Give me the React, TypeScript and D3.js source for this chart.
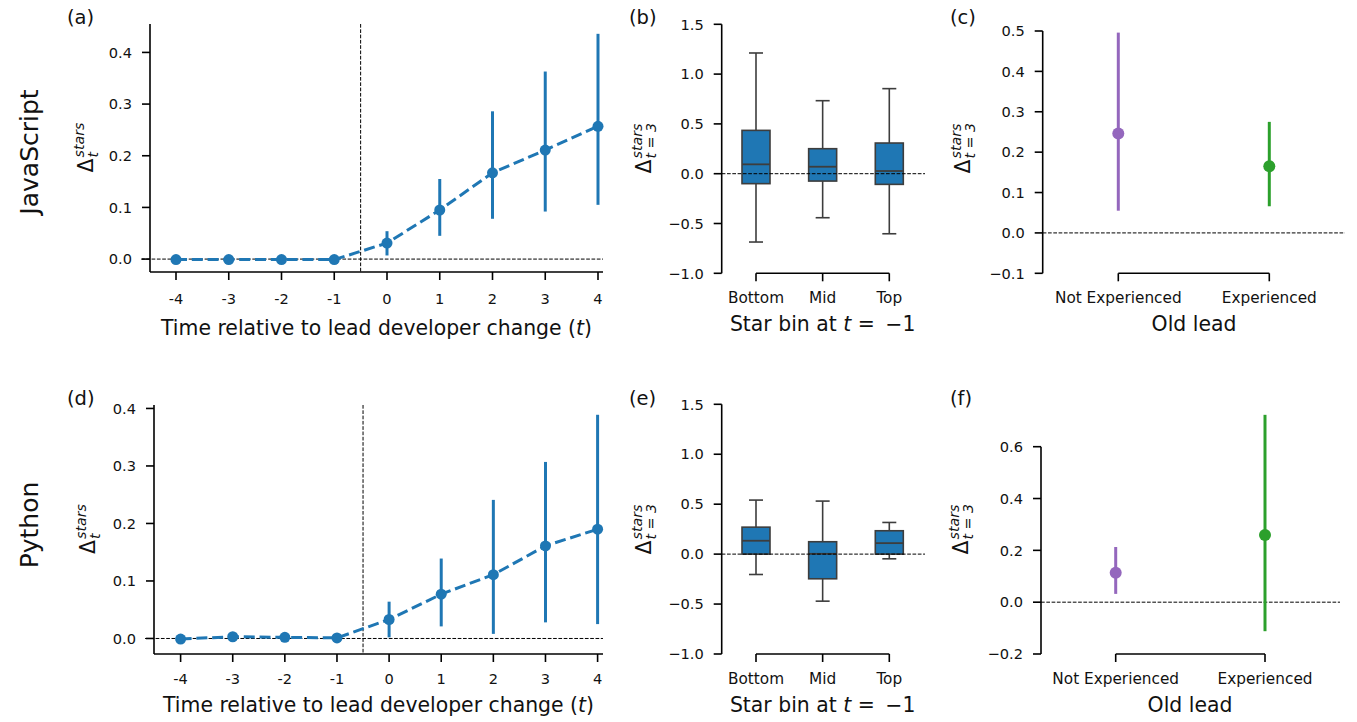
import React from "react";
import * as d3 from "d3";

// ---------- DATA ----------
const timeSteps = [-4, -3, -2, -1, 0, 1, 2, 3, 4];
const timeTickLabels = ["-4", "-3", "-2", "-1", "0", "1", "2", "3", "4"];

const jsMean = [-0.001, -0.001, -0.001, -0.001, 0.031, 0.095, 0.167, 0.211, 0.257];
const jsLow = [-0.003, -0.003, -0.003, -0.003, 0.007, 0.045, 0.078, 0.092, 0.105];
const jsHigh = [0.001, 0.001, 0.001, 0.001, 0.054, 0.155, 0.286, 0.363, 0.436];

const pyMean = [-0.001, 0.003, 0.002, 0.001, 0.033, 0.077, 0.111, 0.161, 0.19];
const pyLow = [-0.003, 0.0, 0.0, -0.001, 0.002, 0.021, 0.008, 0.028, 0.025];
const pyHigh = [0.001, 0.006, 0.004, 0.003, 0.064, 0.139, 0.241, 0.307, 0.389];

const starBins = ["Bottom", "Mid", "Top"];
const jsWhiskerLow = [-0.686, -0.442, -0.603];
const jsQ1 = [-0.1, -0.074, -0.107];
const jsMedian = [0.094, 0.07, 0.027];
const jsQ3 = [0.435, 0.251, 0.308];
const jsWhiskerHigh = [1.212, 0.733, 0.854];

const pyWhiskerLow = [-0.204, -0.471, -0.047];
const pyQ1 = [0.0, -0.247, 0.0];
const pyMedian = [0.134, 0.003, 0.11];
const pyQ3 = [0.27, 0.124, 0.234];
const pyWhiskerHigh = [0.541, 0.531, 0.317];

const leadGroups = ["Not Experienced", "Experienced"];
const leadColors = ["#9467bd", "#2ca02c"];
const jsExpMean = [0.246, 0.165];
const jsExpLow = [0.055, 0.066];
const jsExpHigh = [0.496, 0.275];
const pyExpMean = [0.114, 0.259];
const pyExpLow = [0.032, -0.112];
const pyExpHigh = [0.213, 0.723];

const yTicksA = [0, 0.1, 0.2, 0.3, 0.4];
const yTicksD = [0, 0.1, 0.2, 0.3, 0.4];
const yTicksBox = [-1, -0.5, 0, 0.5, 1, 1.5];
const yTicksC = [-0.1, 0, 0.1, 0.2, 0.3, 0.4, 0.5];
const yTicksF = [-0.2, 0, 0.2, 0.4, 0.6];

// ---------- STYLE ----------
const FONT = "DejaVu Sans";
const BLUE = "#1f77b4";
const BOXLINE = "#3d3d3d";
const TICK_FS = 14.6;
const CAT_FS = 15.3;
const LABEL_FS = 20.4;
const TICK_LEN = 8;
const SPINE_W = 1.6;

const fmt = (v: number) => {
  const s = Math.abs(v).toFixed(1);
  return v < -1e-9 ? "\u2212" + s : s;
};

function YAxis({ y, x, ticks, y0, y1 }: any) {
  return (
    <g>
      <line x1={x} x2={x} y1={y0} y2={y1} stroke="#000" strokeWidth={SPINE_W} />
      {ticks.map((t: number, i: number) => (
        <g key={i}>
          <line x1={x - TICK_LEN} x2={x} y1={y(t)} y2={y(t)} stroke="#000" strokeWidth={SPINE_W} />
          <text x={x - TICK_LEN - 10} y={y(t)} dy="0.36em" textAnchor="end" fontSize={TICK_FS} fontFamily={FONT} fill="#111">
            {fmt(t)}
          </text>
        </g>
      ))}
    </g>
  );
}

function XAxis({ positions, labels, y, x0, x1, labelY, fs }: any) {
  return (
    <g>
      <line x1={x0} x2={x1} y1={y} y2={y} stroke="#000" strokeWidth={SPINE_W} />
      {positions.map((p: number, i: number) => (
        <g key={i}>
          <line x1={p} x2={p} y1={y} y2={y + TICK_LEN} stroke="#000" strokeWidth={SPINE_W} />
          <text x={p} y={labelY} textAnchor="middle" fontSize={fs} fontFamily={FONT} fill="#111">
            {labels[i]}
          </text>
        </g>
      ))}
    </g>
  );
}

function DeltaLabel({ x, y, sub }: any) {
  // rotated mathtext-like label: Delta_{sub}^{stars}
  const dW = 14;
  const supW = 34;
  const total = dW + 1 + supW;
  const sx = -total / 2;
  return (
    <g transform={`translate(${x},${y}) rotate(-90)`} fontFamily={FONT} fill="#111">
      <text x={sx} y={0} fontSize={LABEL_FS}>{"\u0394"}</text>
      <text x={sx + dW + 1} y={-9} fontSize={14.2} fontStyle="italic">stars</text>
      <text x={sx + dW + 1} y={5} fontSize={14.2} fontStyle="italic">{sub}</text>
    </g>
  );
}

function PanelLabel({ x, y, text }: any) {
  return (
    <text x={x} y={y} fontSize={19.5} fontFamily={FONT} fill="#111">{text}</text>
  );
}

function TimePanel({ mean, low, high, cfg }: any) {
  const x = d3.scaleLinear().domain([-4, 4]).range(cfg.xRange);
  const y = d3.scaleLinear().domain(cfg.yDomain).range([cfg.bottom, cfg.top]);
  const pts = timeSteps.map((t, i) => [x(t), y(mean[i])] as [number, number]);
  const line = d3.line()(pts) || "";
  return (
    <g>
      <line x1={cfg.spineX - 9} x2={cfg.right} y1={y(0)} y2={y(0)} stroke="#000" strokeWidth={1} strokeDasharray="3.7 1.6" />
      <line x1={x(-0.5)} x2={x(-0.5)} y1={cfg.top} y2={cfg.bottom} stroke="#000" strokeWidth={1} strokeDasharray="3.7 1.6" />
      {timeSteps.map((t, i) => (
        <line key={i} x1={x(t)} x2={x(t)} y1={y(low[i])} y2={y(high[i])} stroke={BLUE} strokeWidth={3} />
      ))}
      <path d={line} fill="none" stroke={BLUE} strokeWidth={3} strokeDasharray="11 4.8" />
      {pts.map((p, i) => (
        <circle key={i} cx={p[0]} cy={p[1]} r={5.5} fill={BLUE} />
      ))}
      <YAxis y={y} x={cfg.spineX} ticks={cfg.yTicks} y0={cfg.top} y1={cfg.bottom} />
      <XAxis positions={timeSteps.map((t) => x(t))} labels={timeTickLabels} y={cfg.bottom} x0={cfg.spineX} x1={cfg.right} labelY={cfg.xtickY} fs={TICK_FS} />
      <text x={(cfg.spineX + cfg.right) / 2} y={cfg.xlabelY} textAnchor="middle" fontSize={LABEL_FS} fontFamily={FONT} fill="#111">
        Time relative to lead developer change (<tspan fontStyle="italic">t</tspan>)
      </text>
      <DeltaLabel x={cfg.ylabelX} y={(cfg.top + cfg.bottom) / 2} sub="t" />
    </g>
  );
}

function BoxPanel({ wl, q1, med, q3, wh, cfg }: any) {
  const x = d3.scalePoint().domain(starBins).range(cfg.xRange);
  const y = d3.scaleLinear().domain([-1, 1.5]).range([cfg.bottom, cfg.top]);
  const bw = 28;
  const cw = 14;
  return (
    <g>
      {starBins.map((b, i) => {
        const cx = x(b) as number;
        return (
          <g key={b}>
            <line x1={cx} x2={cx} y1={y(q3[i])} y2={y(wh[i])} stroke={BOXLINE} strokeWidth={1.6} />
            <line x1={cx} x2={cx} y1={y(q1[i])} y2={y(wl[i])} stroke={BOXLINE} strokeWidth={1.6} />
            <line x1={cx - cw / 2} x2={cx + cw / 2} y1={y(wh[i])} y2={y(wh[i])} stroke={BOXLINE} strokeWidth={1.6} />
            <line x1={cx - cw / 2} x2={cx + cw / 2} y1={y(wl[i])} y2={y(wl[i])} stroke={BOXLINE} strokeWidth={1.6} />
            <rect x={cx - bw / 2} y={y(q3[i])} width={bw} height={y(q1[i]) - y(q3[i])} fill={BLUE} stroke={BOXLINE} strokeWidth={1.6} />
            <line x1={cx - bw / 2} x2={cx + bw / 2} y1={y(med[i])} y2={y(med[i])} stroke={BOXLINE} strokeWidth={1.8} />
          </g>
        );
      })}
      <line x1={cfg.spineX} x2={cfg.right} y1={y(0)} y2={y(0)} stroke="#000" strokeWidth={1} strokeDasharray="3.7 1.6" />
      <YAxis y={y} x={cfg.spineX} ticks={yTicksBox} y0={y(1.5)} y1={y(-1)} />
      <XAxis positions={starBins.map((b) => x(b) as number)} labels={starBins} y={cfg.bottom} x0={x("Bottom")} x1={x("Top")} labelY={cfg.xtickY} fs={CAT_FS} />
      <text x={(x("Mid") as number)} y={cfg.xlabelY} textAnchor="middle" fontSize={LABEL_FS} fontFamily={FONT} fill="#111">
        Star bin at <tspan fontStyle="italic">t</tspan>{" = \u2009\u22121"}
      </text>
      <DeltaLabel x={cfg.ylabelX} y={cfg.ylabelY} sub="t = 3" />
    </g>
  );
}

function LeadPanel({ mean, low, high, cfg }: any) {
  const x = d3.scalePoint().domain(leadGroups).range(cfg.xRange);
  const y = d3.scaleLinear().domain(cfg.yDomain).range([cfg.bottom, cfg.yTop]);
  return (
    <g>
      <line x1={cfg.spineX} x2={cfg.right} y1={y(0)} y2={y(0)} stroke="#000" strokeWidth={1} strokeDasharray="3.7 1.6" />
      {leadGroups.map((g, i) => {
        const cx = x(g) as number;
        return (
          <g key={g}>
            <line x1={cx} x2={cx} y1={y(low[i])} y2={y(high[i])} stroke={leadColors[i]} strokeWidth={3} />
            <circle cx={cx} cy={y(mean[i])} r={6} fill={leadColors[i]} />
          </g>
        );
      })}
      <YAxis y={y} x={cfg.spineX} ticks={cfg.yTicks} y0={y(cfg.yDomain[1])} y1={y(cfg.yDomain[0])} />
      <XAxis positions={leadGroups.map((g) => x(g) as number)} labels={leadGroups} y={cfg.bottom} x0={x(leadGroups[0])} x1={x(leadGroups[1])} labelY={cfg.xtickY} fs={CAT_FS} />
      <text x={cfg.xlabelX} y={cfg.xlabelY} textAnchor="middle" fontSize={LABEL_FS} fontFamily={FONT} fill="#111">
        Old lead
      </text>
      <DeltaLabel x={cfg.ylabelX} y={cfg.ylabelY} sub="t = 3" />
    </g>
  );
}

export default function App() {
  return (
    <svg width={1357} height={722} style={{ position: "absolute", left: 0, top: 0, background: "#fff" }}>
      <rect x={0} y={0} width={1357} height={722} fill="#fff" />
      {/* row labels */}
      <text transform="translate(38,152) rotate(-90)" textAnchor="middle" fontSize={25} fontFamily={FONT} fill="#111">JavaScript</text>
      <text transform="translate(38,525) rotate(-90)" textAnchor="middle" fontSize={25} fontFamily={FONT} fill="#111">Python</text>

      <PanelLabel x={67} y={24} text="(a)" />
      <PanelLabel x={629} y={24} text="(b)" />
      <PanelLabel x={950} y={24} text="(c)" />
      <PanelLabel x={67} y={405} text="(d)" />
      <PanelLabel x={629} y={405} text="(e)" />
      <PanelLabel x={950} y={405} text="(f)" />

      <TimePanel mean={jsMean} low={jsLow} high={jsHigh}
        cfg={{ xRange: [176, 598], yDomain: [-0.025, 0.455], top: 24, bottom: 272, spineX: 150, right: 603, yTicks: yTicksA, xtickY: 303.5, xlabelY: 335, ylabelX: 93 }} />
      <TimePanel mean={pyMean} low={pyLow} high={pyHigh}
        cfg={{ xRange: [180.6, 597.6], yDomain: [-0.027, 0.406], top: 405, bottom: 654, spineX: 154, right: 603, yTicks: yTicksD, xtickY: 683.5, xlabelY: 712, ylabelX: 95 }} />

      <BoxPanel wl={jsWhiskerLow} q1={jsQ1} med={jsMedian} q3={jsQ3} wh={jsWhiskerHigh}
        cfg={{ xRange: [756, 889.3], top: 24.3, bottom: 273.3, spineX: 721.7, right: 925, xtickY: 303, xlabelY: 331, ylabelX: 651, ylabelY: 149 }} />
      <BoxPanel wl={pyWhiskerLow} q1={pyQ1} med={pyMedian} q3={pyQ3} wh={pyWhiskerHigh}
        cfg={{ xRange: [756, 889.3], top: 404.3, bottom: 654, spineX: 721.7, right: 925, xtickY: 684, xlabelY: 711.5, ylabelX: 651, ylabelY: 530 }} />

      <LeadPanel mean={jsExpMean} low={jsExpLow} high={jsExpHigh}
        cfg={{ xRange: [1118.3, 1269.3], yDomain: [-0.1, 0.5], yTop: 31, bottom: 273.3, spineX: 1042.7, right: 1345, yTicks: yTicksC, xtickY: 303.3, xlabelX: 1194, xlabelY: 331, ylabelX: 970, ylabelY: 149 }} />
      <LeadPanel mean={pyExpMean} low={pyExpLow} high={pyExpHigh}
        cfg={{ xRange: [1115.7, 1265], yDomain: [-0.2, 0.6], yTop: 446.7, bottom: 654, spineX: 1041, right: 1340, yTicks: yTicksF, xtickY: 684, xlabelX: 1190, xlabelY: 712, ylabelX: 968, ylabelY: 530 }} />
    </svg>
  );
}
